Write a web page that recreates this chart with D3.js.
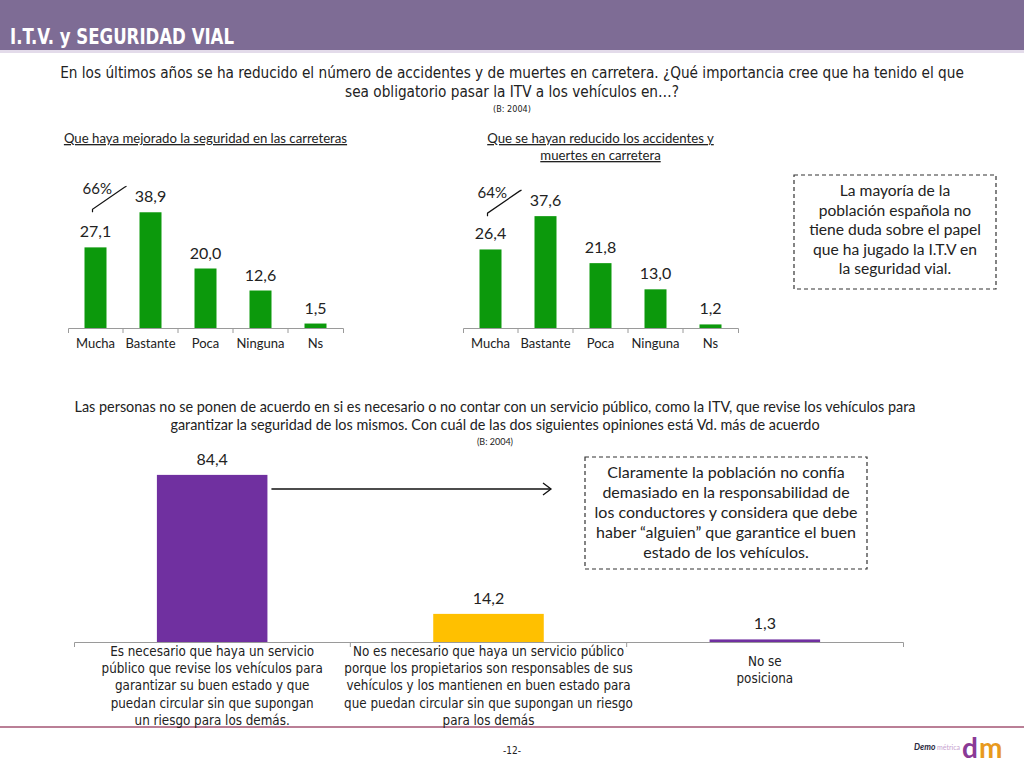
<!DOCTYPE html>
<html>
<head>
<meta charset="utf-8">
<script src="https://cdn.jsdelivr.net/npm/d3@7"></script>
<style>
  body { margin: 0; background: #fff; }
  text { font-family: Lato, "Open Sans", sans-serif; fill: #222; }
  .narrow { font-family: "Liberation Sans Narrow", "DejaVu Sans Condensed", sans-serif; }
  .axis path, .axis line { stroke: #9a9a9a; }
</style>
</head>
<body>
<div id="main"></div>
<script>
// chart values
const categories = ["Mucha", "Bastante", "Poca", "Ninguna", "Ns"];
const seguridadValues = [27.1, 38.9, 20.0, 12.6, 1.5];
const accidentesValues = [26.4, 37.6, 21.8, 13.0, 1.2];
const seguridadTotal = "66%";
const accidentesTotal = "64%";
const opinionCategories = ["necesario", "noNecesario", "noPosiciona"];
const opinionValues = [84.4, 14.2, 1.3];
const opinionColors = ["#7030A0", "#FFC000", "#7030A0"];
const opinionLabels = [
  ["Es necesario que haya un servicio", "público que revise los vehículos para",
   "garantizar su buen estado y que", "puedan circular sin que supongan",
   "un riesgo para los demás."],
  ["No es necesario que haya un servicio público", "porque los propietarios son responsables de sus",
   "vehículos y los mantienen en buen estado para", "que puedan circular sin que supongan un riesgo",
   "para los demás"],
  ["No se", "posiciona"]
];

const ctx = {
  w: 1024,
  h: 768,
  green: "#0C990C",
  fmt: (v) => d3.format(".1f")(v).replace(".", ","),
};

function drawFrame(svg){
  // header band
  svg.append("rect").attr("x", 0).attr("y", 0).attr("width", ctx.w).attr("height", 50)
     .attr("fill", "#7E6C95");
  svg.append("rect").attr("x", 0).attr("y", 50).attr("width", ctx.w).attr("height", 3)
     .attr("fill", "#E3DBEA");
  svg.append("text").attr("x", 10).attr("y", 44).classed("narrow", true)
     .attr("textLength", 224).attr("lengthAdjust", "spacingAndGlyphs")
     .style("font-size", "21px").style("font-weight", "bold").style("fill", "#fff")
     .text("I.T.V. y SEGURIDAD VIAL");
  // question 1
  const q1 = ["En los últimos años se ha reducido el número de accidentes y de muertes en carretera. ¿Qué importancia cree que ha tenido el que",
              "sea obligatorio pasar la ITV a los vehículos en…?"];
  q1.forEach((t, i) => {
    svg.append("text").attr("x", 512).attr("y", 78 + i*19).classed("narrow", true)
       .attr("text-anchor", "middle").style("font-size", "15.2px").text(t);
  });
  svg.append("text").attr("x", 512).attr("y", 112).classed("narrow", true)
     .attr("text-anchor", "middle").style("font-size", "9px").text("(B: 2004)");
  // question 2
  const q2 = ["Las personas no se ponen de acuerdo en si es necesario o no contar con un servicio público, como la ITV, que revise los vehículos para",
              "garantizar la seguridad de los mismos. Con cuál de las dos siguientes opiniones está Vd. más de acuerdo"];
  q2.forEach((t, i) => {
    svg.append("text").attr("x", 495).attr("y", 412 + i*18)
       .attr("text-anchor", "middle").style("font-size", "14.4px").text(t);
  });
  svg.append("text").attr("x", 495).attr("y", 445)
     .attr("text-anchor", "middle").style("font-size", "9px").text("(B: 2004)");
  // footer
  svg.append("line").attr("x1", 0).attr("x2", ctx.w).attr("y1", 727).attr("y2", 727)
     .attr("stroke", "#A35473").attr("stroke-width", 1.5);
  svg.append("text").attr("x", 512).attr("y", 754).classed("narrow", true)
     .attr("text-anchor", "middle").style("font-size", "10px").text("-12-");
  // logo
  let logo = svg.append("g").attr("transform", "translate(914,750)");
  logo.append("text").attr("x", 0).attr("y", 0).style("font-size", "8.5px")
      .style("font-weight", "bold").style("font-style", "italic").style("fill", "#2a2a40").text("Demo");
  logo.append("text").attr("x", 23).attr("y", 0).style("font-size", "7px")
      .style("fill", "#C7A3CF").text("métrica");
  logo.append("text").attr("x", 48).attr("y", 8).style("font-size", "28px")
      .style("font-weight", "bold").style("fill", "#8A3A96").text("d");
  logo.append("text").attr("x", 65).attr("y", 8).style("font-size", "28px")
      .style("font-weight", "bold").style("fill", "#E89A1E").text("m");
}

function smallChart(svg, values, x0, x1, title, total){
  let g = svg.append("g");
  const base = 328;
  let xScale = d3.scaleBand().domain(categories).range([x0, x1])
                 .paddingInner(0.6).paddingOuter(0.3);
  let yScale = d3.scaleLinear().domain([0, 40]).range([base, base - 119]);
  // title (underlined)
  title.forEach((t, i) => {
    g.append("text").attr("x", (x0 + x1)/2).attr("y", 143 + i*17)
     .attr("text-anchor", "middle").style("font-size", "13.2px")
     .style("text-decoration", "underline").text(t);
  });
  // bars
  g.selectAll("rect.bar").data(values).enter().append("rect")
   .attr("class", "bar")
   .attr("x", (d, i) => xScale(categories[i]))
   .attr("y", (d) => yScale(d))
   .attr("width", xScale.bandwidth())
   .attr("height", (d) => base - yScale(d))
   .attr("fill", ctx.green);
  g.selectAll("text.val").data(values).enter().append("text")
   .attr("class", "val")
   .attr("x", (d, i) => xScale(categories[i]) + xScale.bandwidth()/2)
   .attr("y", (d) => yScale(d) - 10)
   .attr("text-anchor", "middle").style("font-size", "16px")
   .text(ctx.fmt);
  // axis with ticks between categories
  let axis = g.append("g").attr("class", "axis").attr("transform", `translate(0,${base})`)
   .call(d3.axisBottom(xScale).tickSize(0).tickSizeOuter(5).tickPadding(11));
  axis.selectAll("text").style("font-size", "13px").style("font-family", "Lato, sans-serif")
      .style("fill", "#222");
  d3.range(1, categories.length).forEach((i) => {
    let xp = x0 + i*xScale.step();
    axis.append("line").attr("x1", xp).attr("x2", xp).attr("y1", 0).attr("y2", 5);
  });
  // total annotation over Mucha + Bastante
  let mx = xScale(categories[0]) + xScale.bandwidth()/2;
  let bx = xScale(categories[1]) + xScale.bandwidth()/2;
  let ty = yScale(values[1]) - 30;
  g.append("path")
   .attr("d", `M${mx - 3},${ty + 30} l0,-3 L${bx - 26},${ty + 5} l2,-1`)
   .attr("fill", "none").attr("stroke", "#111").attr("stroke-width", 1.2);
  g.append("text").attr("x", mx - 13).attr("y", ty + 12).style("font-size", "15px").text(total);
}

function opinionChart(svg){
  let g = svg.append("g");
  const base = 642;
  let xScale = d3.scaleBand().domain(opinionCategories).range([74, 903])
                 .paddingInner(0.6).paddingOuter(0.3);
  let yScale = d3.scaleLinear().domain([0, 100]).range([base, base - 198]);
  g.selectAll("rect.bar").data(opinionValues).enter().append("rect")
   .attr("x", (d, i) => xScale(opinionCategories[i]))
   .attr("y", (d) => yScale(d))
   .attr("width", xScale.bandwidth())
   .attr("height", (d) => base - yScale(d))
   .attr("fill", (d, i) => opinionColors[i]);
  g.selectAll("text.val").data(opinionValues).enter().append("text")
   .attr("x", (d, i) => xScale(opinionCategories[i]) + xScale.bandwidth()/2)
   .attr("y", (d) => yScale(d) - 10)
   .attr("text-anchor", "middle").style("font-size", "16px")
   .text(ctx.fmt);
  let axis = g.append("g").attr("class", "axis").attr("transform", `translate(0,${base})`)
   .call(d3.axisBottom(xScale).tickSize(0).tickSizeOuter(5).tickFormat(""));
  d3.range(1, opinionCategories.length).forEach((i) => {
    let xp = 74 + i*xScale.step();
    axis.append("line").attr("x1", xp).attr("x2", xp).attr("y1", 0).attr("y2", 5);
  });
  // multi-line category labels
  opinionLabels.forEach((lines, i) => {
    let cx = xScale(opinionCategories[i]) + xScale.bandwidth()/2;
    let y0 = lines.length > 2 ? base + 14 : base + 24;
    lines.forEach((t, j) => {
      g.append("text").attr("x", cx).attr("y", y0 + j*17.2).classed("narrow", true)
       .attr("text-anchor", "middle").style("font-size", "13.3px").text(t);
    });
  });
  // arrow from first bar towards the comment box
  let ax = xScale(opinionCategories[0]) + xScale.bandwidth() + 4;
  g.append("line").attr("x1", ax).attr("x2", 551).attr("y1", 489).attr("y2", 489)
   .attr("stroke", "#111").attr("stroke-width", 1.3);
  g.append("path").attr("d", "M543,483 L551,489 L543,495")
   .attr("fill", "none").attr("stroke", "#111").attr("stroke-width", 1.3);
}

function commentBox(svg, x, y, w, h, lines, fs, lh, y0){
  svg.append("rect").attr("x", x).attr("y", y).attr("width", w).attr("height", h)
     .attr("fill", "none").attr("stroke", "#333").attr("stroke-width", 1.2)
     .attr("stroke-dasharray", "4,3");
  lines.forEach((t, i) => {
    svg.append("text").attr("x", x + w/2).attr("y", y0 + i*lh)
       .attr("text-anchor", "middle").style("font-size", fs).text(t);
  });
}

function createViz(){
  let svg = d3.select("#main").append("svg").attr("width", ctx.w).attr("height", ctx.h);
  drawFrame(svg);
  smallChart(svg, seguridadValues, 68, 343,
             ["Que haya mejorado la seguridad en las carreteras"], seguridadTotal);
  smallChart(svg, accidentesValues, 463, 738,
             ["Que se hayan reducido los accidentes y", "muertes en carretera"], accidentesTotal);
  commentBox(svg, 794, 175, 202, 114,
             ["La mayoría de la", "población española no", "tiene duda sobre el papel",
              "que ha jugado la I.T.V en", "la seguridad vial."], "15.6px", 19.5, 196);
  opinionChart(svg);
  commentBox(svg, 585, 457, 282, 112,
             ["Claramente la población no confía", "demasiado en la responsabilidad de",
              "los conductores y considera que debe", "haber “alguien” que garantice el buen",
              "estado de los vehículos."], "16px", 20, 478);
}

createViz();
</script>
</body>
</html>
